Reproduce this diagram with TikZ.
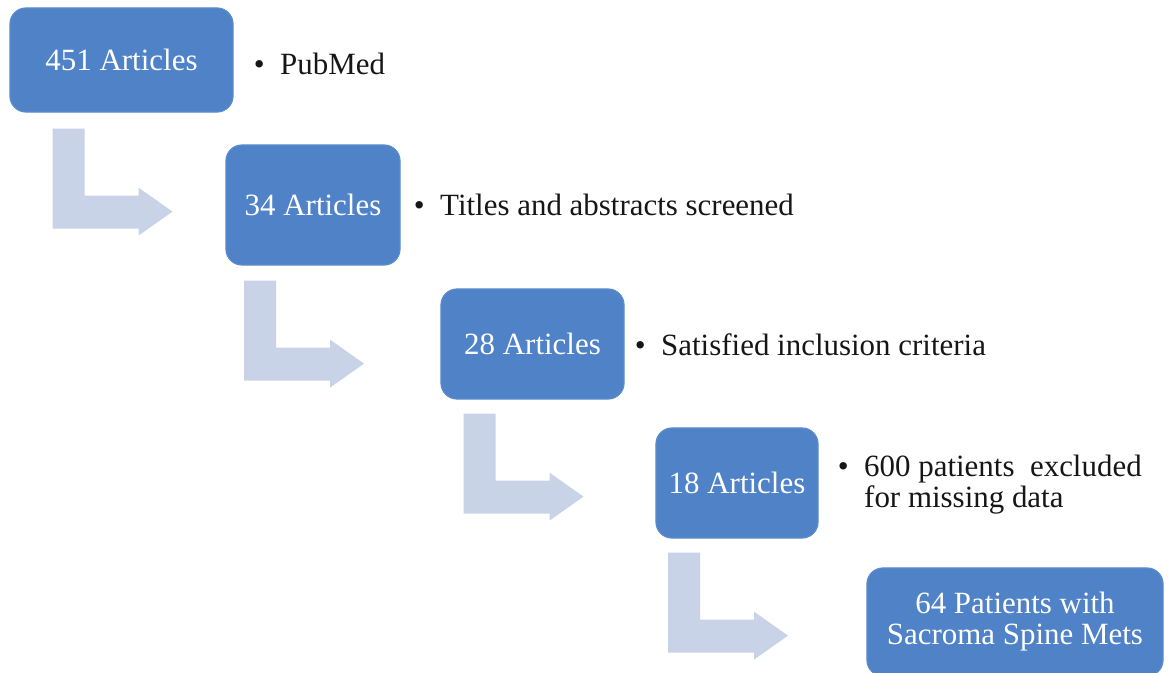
\documentclass[tikz,border=0pt]{standalone}
\usepackage{fontspec}
\setmainfont{Liberation Serif}
\usetikzlibrary{calc,positioning}

\begin{document}
\begin{tikzpicture}[x={0.025cm}, y={-0.025cm},
		box/.style={fill={BOX_BLUE}, draw={BOX_EDGE}, line width={0.3mm}, rounded corners={0.4cm}, text={white},
			align=center, inner sep=0pt, font={\fontsize{22}{22}\selectfont}},
		note/.style={anchor=west, inner sep=0pt, text={ALMOST_BLACK}, align=left, font={\fontsize{22}{22}\selectfont}},
		bentarrow/.pic={
			\fill[ARROW_GRAY] (0,0) -- (32,0) -- (32,67) -- (86,67) -- (86,59) -- (120,83) -- (86,107)
 -- (86,100) -- (0,100) -- cycle;
		}]
				\definecolor{BOX_BLUE}{RGB}{80, 130, 200}
				\definecolor{BOX_EDGE}{RGB}{92, 140, 206}
				\definecolor{ARROW_GRAY}{RGB}{201, 211, 232}
				\definecolor{ALMOST_BLACK}{RGB}{22, 22, 22}
				\clip (0,0) rectangle (1172,672);

				% boxes
				\node[box, minimum width={5.575cm}, minimum height={2.6cm}] (b1) at (121.5,60) {451 Articles};
				\node[box, minimum width={4.35cm}, minimum height={3.0cm}] (b2) at (313,205) {34 Articles};
				\node[box, minimum width={4.575cm}, minimum height={2.75cm}] (b3) at (532.5,344) {28 Articles};
				\node[box, minimum width={4.05cm}, minimum height={2.75cm}] (b4) at (737,483) {18 Articles};
				\node[box, minimum width={7.4cm}, minimum height={2.7cm}] (b5) at (1015,622) {64 Patients with\\Sacroma Spine Mets};

				% notes
				\node[note] (n1) at ($(b1.east)+(20,4)$) {\textbullet\ \ PubMed};
				\node[note] (n2) at ($(b2.east)+(13,0)$) {\textbullet\ \ Titles and abstracts screened};
				\node[note] (n3) at ($(b3.east)+(10,1)$) {\textbullet\ \ Satisfied inclusion criteria};
				\node[note] (n4) at ($(b4.east)+(19,3)$) {\begin{tabular}{@{}l@{\ \ }l@{}}\textbullet & 600 patients\ \ excluded\\
 & for missing data\end{tabular}};

				% bent arrows
				\pic at ($(b1.south)+(-69,16)$) {bentarrow};
				\pic at ($(b2.south)+(-69,15)$) {bentarrow};
				\pic at ($(b3.south)+(-69,14)$) {bentarrow};
				\pic at ($(b4.south)+(-69,14)$) {bentarrow};

			\end{tikzpicture}
\end{document}
